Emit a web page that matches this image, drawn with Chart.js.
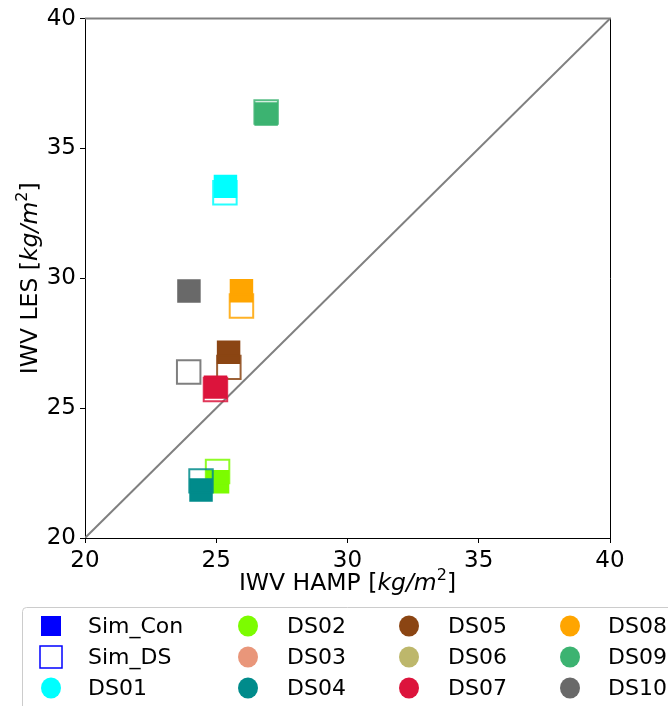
<!DOCTYPE html>
<html>
<head>
<meta charset="utf-8">
<script src="https://cdn.jsdelivr.net/npm/chart.js@4/dist/chart.umd.min.js"></script>
<style>
  html, body { margin: 0; padding: 0; background: #ffffff; }
  #wrap { width: 668px; height: 706px; position: relative; }
</style>
</head>
<body>
<div id="wrap"><canvas id="chart" width="668" height="706"></canvas></div>
<script>
// Integrated water vapour: HAMP retrieval vs. LES, per dropsonde case
const caseLabels = ['DS01', 'DS02', 'DS03', 'DS04', 'DS05', 'DS06', 'DS07', 'DS08', 'DS09', 'DS10'];
const caseColors = ['#00FFFF', '#7CFC00', '#E9967A', '#008B8B', '#8B4513', '#BDB76B', '#DC143C', '#FFA500', '#3CB371', '#696969'];

// Sim_Con (filled squares)
const hampCon = [25.35, 25.05, null, 24.42, 25.47, null, 24.97, 25.96, 26.90, 23.96];
const lesCon  = [33.54, 22.17, null, 21.85, 27.15, null, 25.81, 29.52, 36.33, 29.51];
// Sim_DS (open squares)
const hampDs  = [25.33, 25.05, null, 24.42, 25.48, null, 24.97, 25.96, 26.90, 23.95];
const lesDs   = [33.29, 22.56, null, 22.20, 26.57, null, 25.72, 28.93, 36.40, 26.39];

// 1:1 reference line and axis range
const oneToOne = [20, 40];
const axisMin = 20, axisMax = 40, tickStep = 5;

const simLabels = ['Sim_Con', 'Sim_DS'];
const xTitle = [['IWV HAMP [', 'n'], ['kg/m', 'i'], ['2', 's'], [']', 'n']];
const yTitle = [['IWV LES [', 'n'], ['kg/m', 'i'], ['2', 's'], [']', 'n']];

const FONT = "'DejaVu Sans', sans-serif";

function withAlpha(hex, a) {
  const r = parseInt(hex.slice(1, 3), 16), g = parseInt(hex.slice(3, 5), 16), b = parseInt(hex.slice(5, 7), 16);
  return `rgba(${r},${g},${b},${a})`;
}

// build datasets: the 1:1 line first, then filled + open marker per case
const datasets = [];
let seq = 0;
const TOTAL = 100;
datasets.push({
  type: 'line',
  label: '1:1',
  data: oneToOne.map(v => ({ x: v, y: v })),
  borderColor: '#808080',
  borderWidth: 2,
  pointRadius: 0,
  fill: false,
  order: TOTAL - (seq++)
});
caseLabels.forEach((lab, i) => {
  datasets.push({
    label: lab + ' ' + simLabels[0],
    data: hampCon[i] == null ? [] : [{ x: hampCon[i], y: lesCon[i] }],
    pointStyle: 'rect',
    pointRadius: 16.6,
    pointHoverRadius: 16.6,
    backgroundColor: caseColors[i],
    borderWidth: 0,
    order: TOTAL - (seq++)
  });
  datasets.push({
    label: lab + ' ' + simLabels[1],
    data: hampDs[i] == null ? [] : [{ x: hampDs[i], y: lesDs[i] }],
    pointStyle: 'rect',
    pointRadius: 16.6,
    pointHoverRadius: 16.6,
    backgroundColor: 'rgba(0,0,0,0)',
    borderColor: withAlpha(caseColors[i], 0.85),
    borderWidth: 2,
    order: TOTAL - (seq++)
  });
});

function drawRich(ctx, parts, size) {
  const fontFor = k => k === 'i' ? `italic ${size}px ${FONT}` : k === 's' ? `${Math.round(size * 0.7)}px ${FONT}` : `${size}px ${FONT}`;
  let total = 0;
  parts.forEach(p => { ctx.font = fontFor(p[1]); total += ctx.measureText(p[0]).width; });
  let x = -total / 2;
  ctx.textAlign = 'left';
  ctx.textBaseline = 'alphabetic';
  ctx.fillStyle = '#000';
  parts.forEach(p => {
    ctx.font = fontFor(p[1]);
    const dy = p[1] === 's' ? -size * 0.42 : 0;
    ctx.fillText(p[0], x, dy);
    x += ctx.measureText(p[0]).width;
  });
}

const decorPlugin = {
  id: 'decor',
  afterDraw(chart) {
    const ctx = chart.ctx;
    const a = chart.chartArea;
    ctx.save();
    // right and top frame lines
    ctx.lineWidth = 1;
    ctx.strokeStyle = '#000';
    ctx.beginPath();
    ctx.moveTo(Math.round(a.right) + 0.5, a.top);
    ctx.lineTo(Math.round(a.right) + 0.5, a.bottom);
    ctx.stroke();
    ctx.lineWidth = 2;
    ctx.strokeStyle = '#808080';
    ctx.beginPath();
    ctx.moveTo(a.left, a.top);
    ctx.lineTo(a.right + 1, a.top);
    ctx.stroke();

    // axis titles
    ctx.save();
    ctx.translate((a.left + a.right) / 2, a.bottom + 52);
    drawRich(ctx, xTitle, 23.5);
    ctx.restore();
    ctx.save();
    ctx.translate(a.left - 48, (a.top + a.bottom) / 2);
    ctx.rotate(-Math.PI / 2);
    drawRich(ctx, yTitle, 23.5);
    ctx.restore();

    // legend: 3 rows, filled column by column
    const entries = [
      { label: simLabels[0], kind: 'filled', color: '#0000FF' },
      { label: simLabels[1], kind: 'open', color: '#0000FF' }
    ].concat(caseLabels.map((l, i) => ({ label: l, kind: 'circle', color: caseColors[i] })));
    const boxLeft = 22.5, boxTop = 607.5;
    ctx.fillStyle = 'rgba(255,255,255,0.8)';
    ctx.strokeStyle = '#cccccc';
    ctx.lineWidth = 1;
    ctx.beginPath();
    ctx.roundRect(boxLeft, boxTop, 700, 140, 4);
    ctx.fill();
    ctx.stroke();
    const markX = [51, 248, 409, 570];
    const textX = [88, 287, 448, 608];
    const rowY = [626, 657, 688];
    ctx.font = `22px ${FONT}`;
    ctx.textAlign = 'left';
    ctx.textBaseline = 'middle';
    entries.forEach((e, k) => {
      const c = Math.floor(k / 3), r = k % 3;
      const mx = markX[c], my = rowY[r];
      if (e.kind === 'filled') {
        ctx.fillStyle = e.color;
        ctx.fillRect(mx - 10, my - 10, 20, 20);
      } else if (e.kind === 'open') {
        ctx.strokeStyle = e.color;
        ctx.lineWidth = 1.5;
        ctx.strokeRect(mx - 11, my - 11, 22, 22);
      } else {
        ctx.fillStyle = e.color;
        ctx.beginPath();
        ctx.ellipse(mx, my, 10, 10.5, 0, 0, Math.PI * 2);
        ctx.fill();
      }
      ctx.fillStyle = '#000';
      ctx.fillText(e.label, textX[c], my + 1);
    });
    ctx.restore();
  }
};

const axisCommon = {
  type: 'linear',
  min: axisMin,
  max: axisMax,
  ticks: {
    stepSize: tickStep,
    color: '#000',
    font: { family: FONT, size: 23 },
    padding: 4
  },
  grid: {
    display: true,
    drawOnChartArea: false,
    drawTicks: true,
    tickLength: 5,
    color: '#000',
    lineWidth: 1
  },
  border: { display: true, color: '#000', width: 1 },
  title: { display: false }
};

new Chart(document.getElementById('chart'), {
  type: 'scatter',
  data: { datasets },
  options: {
    responsive: false,
    animation: false,
    events: [],
    layout: { padding: { left: 0, top: 15, right: 58, bottom: 0 } },
    plugins: { legend: { display: false }, tooltip: { enabled: false } },
    scales: {
      x: Object.assign({}, axisCommon, {
        position: 'bottom',
        afterFit(scale) { scale.height = 168; }
      }),
      y: Object.assign({}, axisCommon, {
        position: 'left',
        afterFit(scale) { scale.width = 85; }
      })
    }
  },
  plugins: [decorPlugin]
});
</script>
</body>
</html>
